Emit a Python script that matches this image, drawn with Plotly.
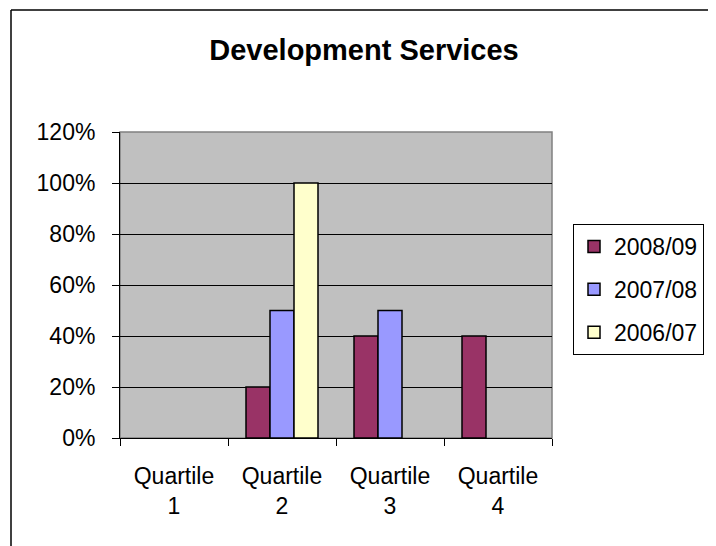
import plotly.graph_objects as go

categories = ["Quartile<br>1", "Quartile<br>2", "Quartile<br>3", "Quartile<br>4"]
series_names = ["2008/09", "2007/08", "2006/07"]
values_2008_09 = [0, 20, 40, 40]
values_2007_08 = [0, 50, 50, 0]
values_2006_07 = [0, 100, 0, 0]
y_ticks = [0, 20, 40, 60, 80, 100, 120]
y_tick_labels = ["0%", "20%", "40%", "60%", "80%", "100%", "120%"]

colors = ["#993366", "#9999FF", "#FFFFCC"]
series = [values_2008_09, values_2007_08, values_2006_07]

OFF = 8  # page body margin
W, H = 708, 538
# target plot area in screenshot pixels: x 120..552, y 132..438
ML = 120 - OFF
MT = 132 - OFF
MR = W - (552 - OFF)
MB = H - (438 - OFF)
PW = W - ML - MR
PH = H - MT - MB

def px_x(px):
    return (px - OFF - ML) / PW

def px_y(py):
    return (H - MB - (py - OFF)) / PH

fig = go.Figure()
for name, vals, col in zip(series_names, series, colors):
    fig.add_trace(go.Bar(
        x=categories,
        y=[v if v != 0 else None for v in vals],
        name=name,
        legendgroup=name,
        marker=dict(color=col, line=dict(color="black", width=1.5)),
    ))

font_family = "Liberation Sans, Arial, sans-serif"

fig.update_layout(
    width=W, height=H,
    margin=dict(l=ML, r=MR, t=MT, b=MB),
    paper_bgcolor="white",
    plot_bgcolor="#C0C0C0",
    barmode="group",
    bargap=1/3,
    bargroupgap=0,
    font=dict(family=font_family, color="black", size=23),
    title=dict(
        text="<b>Development Services</b>",
        x=(364 - OFF) / W, xref="container", xanchor="center",
        y=1 - (50 - OFF) / H, yref="container", yanchor="middle",
        font=dict(size=29, family=font_family, color="black"),
    ),
    showlegend=True,
    legend=dict(
        x=px_x(573), y=px_y(224), xanchor="left", yanchor="top",
        bordercolor="black", borderwidth=1, bgcolor="white",
        font=dict(size=23, family=font_family),
        tracegroupgap=10,
        traceorder="grouped",
    ),
    xaxis=dict(
        type="category",
        tickson="boundaries",
        ticks="outside", ticklen=7, tickcolor="black", tickwidth=1,
        showline=True, linecolor="black", linewidth=1,
        showgrid=False,
        tickfont=dict(size=23),
        ticklabelstandoff=17,
    ),
    yaxis=dict(
        range=[0, 120],
        tickvals=y_ticks, ticktext=y_tick_labels,
        ticks="outside", ticklen=7, tickcolor="black", tickwidth=1,
        showline=True, linecolor="black", linewidth=1,
        showgrid=True, gridcolor="black", gridwidth=1,
        zeroline=False,
        tickfont=dict(size=23),
        ticklabelstandoff=12,
    ),
    shapes=[
        dict(type="rect", xref="paper", yref="paper", x0=0, x1=1, y0=0, y1=1,
             line=dict(color="#808080", width=1.5), layer="below"),
        dict(type="line", xref="paper", yref="paper",
             x0=px_x(11), x1=px_x(11), y0=px_y(10), y1=px_y(560),
             line=dict(color="black", width=1.5)),
        dict(type="line", xref="paper", yref="paper",
             x0=px_x(709), x1=px_x(709), y0=px_y(10), y1=px_y(560),
             line=dict(color="black", width=1.5)),
        dict(type="line", xref="paper", yref="paper",
             x0=px_x(11), x1=px_x(709), y0=px_y(10), y1=px_y(10),
             line=dict(color="black", width=1.5)),
    ],
)

fig.write_html("out.html")
